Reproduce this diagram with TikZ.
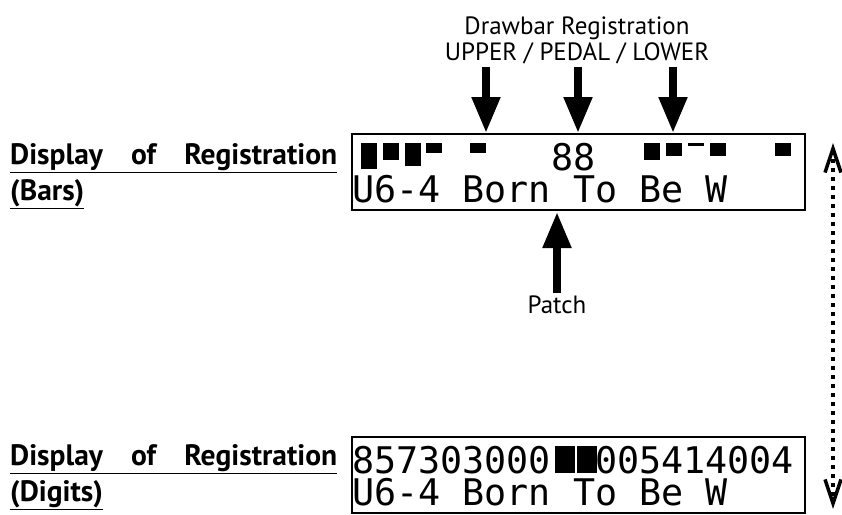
\documentclass[tikz,border=0pt]{standalone}
\usepackage{fontspec}
\setmainfont{PT Sans}
\newfontfamily\lcdfont{DejaVu Sans Mono}
\usetikzlibrary{
  arrows.meta,
  positioning
}

\begin{document}
\begin{tikzpicture}[
  x=1pt, y=-1pt,
  lcd/.style={rectangle, draw=black, line width=1.6pt, minimum width=453pt, minimum height=76pt, anchor=north west, inner sep=0pt},
  lcdtext/.style={anchor=north west, inner sep=0pt, align=left, font=\lcdfont\fontsize{36.7}{32}\selectfont},
  caption/.style={inner sep=2pt, align=center, font=\fontsize{25}{26}\selectfont},
  sidelabel/.style={anchor=north west, inner sep=0pt, align=left, font=\bfseries\fontsize{29.5}{36}\selectfont},
  pointer/.style={-{Triangle[length=36pt,width=27pt]}, line width=8pt},
  spanarrow/.style={{Straight Barb[length=24pt,width=16pt]}-{Straight Barb[length=24pt,width=16pt]}, line width=3.5pt, dash pattern=on 4pt off 5pt}
]
\useasboundingbox (0,0) rectangle (842,514);

% Displays
\node[lcd] (bars) at (351,133) {};
\node[lcd] (digits) at (351,436) {};

% Left labels
\node[sidelabel] (barslabel) at (10,143) {\underline{\makebox[327pt][s]{Display of Registration}}\\\underline{(Bars)}};
\node[sidelabel] (digitslabel) at (10,444) {\underline{\makebox[327pt][s]{Display of Registration}}\\\underline{(Digits)}};

% Display texts
\node[lcdtext] (barstext) at (352,143.3) {\phantom{000000000}88\\U6-4 Born To Be W};
\node[lcdtext] (digitstext) at (352,446.3) {857303000\phantom{00}005414004\\U6-4 Born To Be W};

% Drawbar bars (upper)
\fill (361,143) rectangle ++(16,26.4);
\fill (382.8,143) rectangle ++(16,16.5);
\fill (404.6,143) rectangle ++(16,23.1);
\fill (426.4,143) rectangle ++(16,9.9);
\fill (470,143) rectangle ++(16,9.9);
% Drawbar bars (lower)
\fill (644.4,143) rectangle ++(16,16.5);
\fill (666.2,143) rectangle ++(16,13.2);
\fill (688,143) rectangle ++(16,3.3);
\fill (709.8,143) rectangle ++(16,13.2);
\fill (775.2,143) rectangle ++(16,13.2);
% Pedal blocks
\fill (555,446) rectangle (575,473);
\fill (577,446) rectangle (597,473);

% Captions
\node[caption, anchor=north] (title) at (577,15) {Drawbar Registration\\UPPER / PEDAL / LOWER};
\node[caption, anchor=base] (patch) at (557,313) {Patch};

% Arrow targets
\coordinate (upper) at (486,133);
\coordinate (pedal) at (578,133);
\coordinate (lower) at (673,133);
\coordinate (patchtip) at (557,212);
\coordinate (rangetop) at (833,143);
\coordinate (rangebot) at (833,509);

% Arrows
\draw[pointer] (upper |- title.south) -- (upper);
\draw[pointer] (pedal |- title.south) -- (pedal);
\draw[pointer] (lower |- title.south) -- (lower);
\draw[pointer] (patch.north) -- (patchtip);
\draw[spanarrow] (rangetop) -- (rangebot);

\end{tikzpicture}
\end{document}
